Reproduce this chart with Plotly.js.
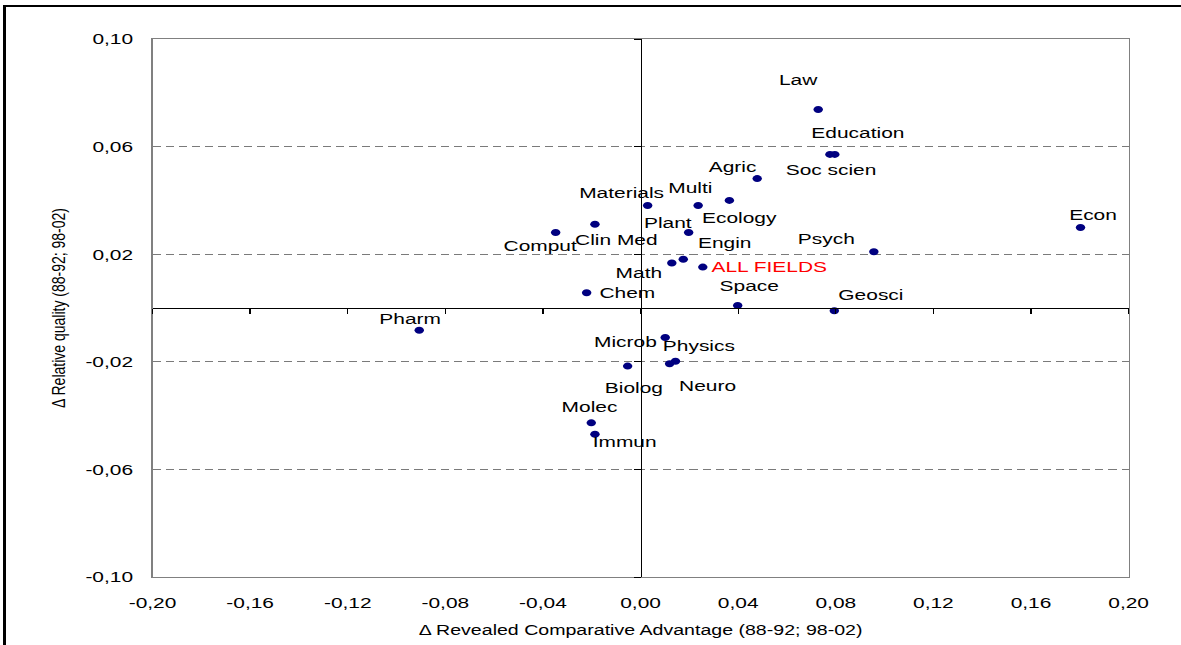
<!DOCTYPE html>
<html>
<head>
<meta charset="utf-8">
<script src="https://cdn.plot.ly/plotly-3.0.1.min.js"></script>
<style>
  html, body { margin: 0; padding: 0; background: #ffffff; overflow: hidden; }
  #page { position: relative; width: 1181px; height: 645px; overflow: hidden; background: #fff; }
  #wrap { position: absolute; left: 0; top: 0; width: 875px; height: 645px; transform: scaleX(1.35); transform-origin: 0 0; }
  #bl { position: absolute; left: 3px; top: 5px; width: 3px; height: 640px; background: #000; }
  #bt { position: absolute; left: 3px; top: 5px; width: 1178px; height: 2px; background: #000; }
</style>
</head>
<body>
<div id="page">
  <div id="wrap"><div id="chart" style="width:875px;height:645px;"></div></div>
  <div id="bl"></div>
  <div id="bt"></div>
</div>
<script>
// ---- data ----
const fields = ["Law","Education","Soc scien","Agric","Materials","Multi","Ecology","Plant","Comput","Clin Med","Engin","Psych","Econ","Math","ALL FIELDS","Chem","Space","Geosci","Pharm","Microb","Physics","Neuro","Biolog","Molec","Immun"];
const deltaRCA = [0.0728,0.0796,0.0776,0.0478,0.0029,0.0236,0.0364,0.0197,-0.0348,-0.0187,0.0175,0.0956,0.1803,0.0128,0.0255,-0.0221,0.0398,0.0794,-0.0907,0.0101,0.0143,0.0119,-0.0053,-0.0202,-0.0187];
const deltaQuality = [0.0738,0.0571,0.0571,0.0481,0.0381,0.0381,0.0400,0.0281,0.0281,0.0311,0.0181,0.0209,0.0299,0.0167,0.0152,0.0057,0.0009,-0.0010,-0.0083,-0.0110,-0.0198,-0.0207,-0.0216,-0.0427,-0.0469];
const xTickVals = [-0.20,-0.16,-0.12,-0.08,-0.04,0.00,0.04,0.08,0.12,0.16,0.20];
const xTickText = ["-0,20","-0,16","-0,12","-0,08","-0,04","0,00","0,04","0,08","0,12","0,16","0,20"];
const yTickVals = [-0.10,-0.06,-0.02,0.02,0.06,0.10];
const yTickText = ["-0,10","-0,06","-0,02","0,02","0,06","0,10"];

// ---- label placement (styling: offsets in pixels from each point) ----
const labelDx = [-19.7,23.7,0.4,-23.9,-25.3,-7.7,9.8,-20.8,-15,21.5,41.5,-47.6,12.8,-32.6,66.4,40,11.5,35.8,-9,-39.2,23.8,38,6.2,-1.5,29.4];
const labelDy = [-29.7,-22,15.3,-12.3,-13.3,-17.6,17,-9.6,12.7,14.7,-17,-13.4,-13,9.3,-0.3,0.3,-20,-15.7,-12,3.6,-15.6,22,21,-16.3,7.4];

const SX = 1.35;
const FONT = "Liberation Sans, Arial, Helvetica, sans-serif";

const annotations = fields.map((f, i) => ({
  x: deltaRCA[i], y: deltaQuality[i], xref: 'x', yref: 'y',
  text: f, showarrow: false,
  xanchor: 'center', yanchor: 'middle',
  xshift: labelDx[i] / SX, yshift: -labelDy[i],
  font: { family: FONT, size: 15.5, color: f === "ALL FIELDS" ? '#ff0000' : '#000000' }
}));

const trace = {
  type: 'scatter', mode: 'markers',
  x: deltaRCA, y: deltaQuality, text: fields,
  marker: { color: '#000080', size: 7, line: { width: 0 } },
  hoverinfo: 'text', showlegend: false
};

const layout = {
  width: 875, height: 645,
  margin: { l: 112.6, r: 39.1, t: 38.5, b: 67.5, pad: 0 },
  paper_bgcolor: '#ffffff', plot_bgcolor: '#ffffff',
  separators: ',.',
  font: { family: FONT, size: 15.5, color: '#000' },
  showlegend: false,
  xaxis: {
    range: [-0.2, 0.2], tickmode: 'array', tickvals: xTickVals, ticktext: xTickText,
    showgrid: false, zeroline: false, showline: true, linecolor: '#808080', linewidth: 1.3, mirror: true,
    ticks: '', ticklabelstandoff: 11,
    tickfont: { family: FONT, size: 15.5, color: '#000' },
    title: { text: 'Δ Revealed Comparative Advantage (88-92; 98-02)', font: { family: FONT, size: 14.5, color: '#000' }, standoff: 15 }
  },
  yaxis: {
    range: [-0.1, 0.1], tickmode: 'array', tickvals: yTickVals, ticktext: yTickText,
    showgrid: true, gridcolor: '#7a7a7a', gridwidth: 1.4, griddash: '6px,3.7px',
    zeroline: false, showline: true, linecolor: '#808080', linewidth: 1.3, mirror: true,
    ticks: '', ticklabelstandoff: 10,
    tickfont: { family: FONT, size: 15.5, color: '#000' },
    title: { text: 'Δ Relative quality (88-92; 98-02)', font: { family: FONT, size: 14, color: '#000' }, standoff: 11 }
  },
  xaxis2: {
    overlaying: 'x', anchor: 'free', position: 0.5, side: 'bottom',
    range: [-0.2, 0.2], tickmode: 'array', tickvals: xTickVals,
    showticklabels: false, ticks: 'outside', ticklen: 5, tickwidth: 1, tickcolor: '#000',
    showline: true, linecolor: '#000', linewidth: 1, showgrid: false, zeroline: false, fixedrange: true
  },
  yaxis2: {
    overlaying: 'y', anchor: 'free', position: 0.5, side: 'left',
    range: [-0.1, 0.1], tickmode: 'array', tickvals: yTickVals,
    showticklabels: false, ticks: 'outside', ticklen: 5, tickwidth: 1, tickcolor: '#000',
    showline: true, linecolor: '#000', linewidth: 1, showgrid: false, zeroline: false, fixedrange: true
  },
  annotations: annotations
};

const axisCarrier = { type: 'scatter', mode: 'markers', x: [], y: [], xaxis: 'x2', yaxis: 'y2', showlegend: false, hoverinfo: 'skip' };

Plotly.newPlot('chart', [axisCarrier, trace], layout, { staticPlot: true, displayModeBar: false });
</script>
</body>
</html>
